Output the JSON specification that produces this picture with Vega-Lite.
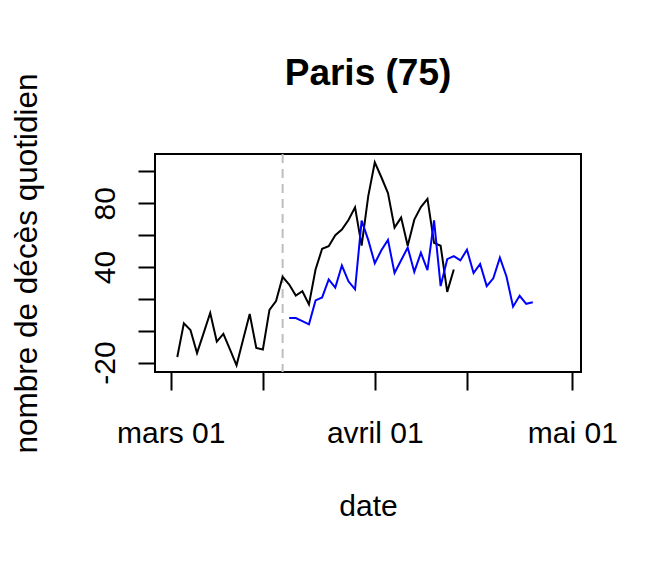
{
  "$schema": "https://vega.github.io/schema/vega-lite/v6.json",
  "width": 426,
  "height": 218,
  "autosize": {"type": "none"},
  "padding": {"left": 155, "top": 154, "right": 80, "bottom": 195},
  "background": "white",
  "title": {"text": "Paris (75)", "fontSize": 37, "font": "Liberation Sans", "fontWeight": "bold", "color": "black", "anchor": "middle", "frame": "group", "offset": -57, "baseline": "bottom"},
  "config": {
    "view": {"stroke": "black", "strokeWidth": 2},
    "axis": {"grid": false, "domain": false, "tickColor": "black", "tickWidth": 2, "labelFont": "Liberation Sans", "labelFontSize": 30, "labelColor": "black", "titleFont": "Liberation Sans", "titleFontSize": 30, "titleFontWeight": "normal", "titleColor": "black", "labelOverlap": false, "labelFlush": false}
  },
  "datasets": {
    "series": [
      {"date": "2020-03-02", "deces": -16.5, "serie": "observé"},
      {"date": "2020-03-03", "deces": 4.6, "serie": "observé"},
      {"date": "2020-03-04", "deces": 0.4, "serie": "observé"},
      {"date": "2020-03-05", "deces": -14, "serie": "observé"},
      {"date": "2020-03-06", "deces": -1.5, "serie": "observé"},
      {"date": "2020-03-07", "deces": 11.2, "serie": "observé"},
      {"date": "2020-03-08", "deces": -6.8, "serie": "observé"},
      {"date": "2020-03-09", "deces": -2, "serie": "observé"},
      {"date": "2020-03-10", "deces": -11.7, "serie": "observé"},
      {"date": "2020-03-11", "deces": -21.7, "serie": "observé"},
      {"date": "2020-03-12", "deces": -5.5, "serie": "observé"},
      {"date": "2020-03-13", "deces": 10.5, "serie": "observé"},
      {"date": "2020-03-14", "deces": -10.8, "serie": "observé"},
      {"date": "2020-03-15", "deces": -11.8, "serie": "observé"},
      {"date": "2020-03-16", "deces": 13.1, "serie": "observé"},
      {"date": "2020-03-17", "deces": 18.6, "serie": "observé"},
      {"date": "2020-03-18", "deces": 33.8, "serie": "observé"},
      {"date": "2020-03-19", "deces": 29, "serie": "observé"},
      {"date": "2020-03-20", "deces": 22.1, "serie": "observé"},
      {"date": "2020-03-21", "deces": 24.8, "serie": "observé"},
      {"date": "2020-03-22", "deces": 16.5, "serie": "observé"},
      {"date": "2020-03-23", "deces": 38.4, "serie": "observé"},
      {"date": "2020-03-24", "deces": 51.4, "serie": "observé"},
      {"date": "2020-03-25", "deces": 53, "serie": "observé"},
      {"date": "2020-03-26", "deces": 59.9, "serie": "observé"},
      {"date": "2020-03-27", "deces": 63.5, "serie": "observé"},
      {"date": "2020-03-28", "deces": 69.5, "serie": "observé"},
      {"date": "2020-03-29", "deces": 77.4, "serie": "observé"},
      {"date": "2020-03-30", "deces": 53.4, "serie": "observé"},
      {"date": "2020-03-31", "deces": 84.3, "serie": "observé"},
      {"date": "2020-04-01", "deces": 105.7, "serie": "observé"},
      {"date": "2020-04-02", "deces": 96.3, "serie": "observé"},
      {"date": "2020-04-03", "deces": 86.4, "serie": "observé"},
      {"date": "2020-04-04", "deces": 64.7, "serie": "observé"},
      {"date": "2020-04-05", "deces": 71, "serie": "observé"},
      {"date": "2020-04-06", "deces": 53.3, "serie": "observé"},
      {"date": "2020-04-07", "deces": 69.7, "serie": "observé"},
      {"date": "2020-04-08", "deces": 77.6, "serie": "observé"},
      {"date": "2020-04-09", "deces": 82.7, "serie": "observé"},
      {"date": "2020-04-10", "deces": 55.1, "serie": "observé"},
      {"date": "2020-04-11", "deces": 53.3, "serie": "observé"},
      {"date": "2020-04-12", "deces": 24.4, "serie": "observé"},
      {"date": "2020-04-13", "deces": 38.4, "serie": "observé"},
      {"date": "2020-03-19", "deces": 8, "serie": "modèle"},
      {"date": "2020-03-20", "deces": 8, "serie": "modèle"},
      {"date": "2020-03-21", "deces": 6, "serie": "modèle"},
      {"date": "2020-03-22", "deces": 4, "serie": "modèle"},
      {"date": "2020-03-23", "deces": 19, "serie": "modèle"},
      {"date": "2020-03-24", "deces": 20.9, "serie": "modèle"},
      {"date": "2020-03-25", "deces": 32.2, "serie": "modèle"},
      {"date": "2020-03-26", "deces": 27.1, "serie": "modèle"},
      {"date": "2020-03-27", "deces": 40.9, "serie": "modèle"},
      {"date": "2020-03-28", "deces": 31, "serie": "modèle"},
      {"date": "2020-03-29", "deces": 26, "serie": "modèle"},
      {"date": "2020-03-30", "deces": 69.1, "serie": "modèle"},
      {"date": "2020-03-31", "deces": 57, "serie": "modèle"},
      {"date": "2020-04-01", "deces": 42.3, "serie": "modèle"},
      {"date": "2020-04-02", "deces": 50.5, "serie": "modèle"},
      {"date": "2020-04-03", "deces": 57, "serie": "modèle"},
      {"date": "2020-04-04", "deces": 36.2, "serie": "modèle"},
      {"date": "2020-04-05", "deces": 44.2, "serie": "modèle"},
      {"date": "2020-04-06", "deces": 52.2, "serie": "modèle"},
      {"date": "2020-04-07", "deces": 36.9, "serie": "modèle"},
      {"date": "2020-04-08", "deces": 48.9, "serie": "modèle"},
      {"date": "2020-04-09", "deces": 38, "serie": "modèle"},
      {"date": "2020-04-10", "deces": 69.2, "serie": "modèle"},
      {"date": "2020-04-11", "deces": 28, "serie": "modèle"},
      {"date": "2020-04-12", "deces": 44.9, "serie": "modèle"},
      {"date": "2020-04-13", "deces": 46.8, "serie": "modèle"},
      {"date": "2020-04-14", "deces": 44.1, "serie": "modèle"},
      {"date": "2020-04-15", "deces": 50.9, "serie": "modèle"},
      {"date": "2020-04-16", "deces": 36.2, "serie": "modèle"},
      {"date": "2020-04-17", "deces": 41.9, "serie": "modèle"},
      {"date": "2020-04-18", "deces": 28, "serie": "modèle"},
      {"date": "2020-04-19", "deces": 32.9, "serie": "modèle"},
      {"date": "2020-04-20", "deces": 45.9, "serie": "modèle"},
      {"date": "2020-04-21", "deces": 34, "serie": "modèle"},
      {"date": "2020-04-22", "deces": 15.1, "serie": "modèle"},
      {"date": "2020-04-23", "deces": 21.9, "serie": "modèle"},
      {"date": "2020-04-24", "deces": 16.9, "serie": "modèle"},
      {"date": "2020-04-25", "deces": 17.9, "serie": "modèle"}
    ],
    "confinement": [
      {"date": "2020-03-18"}
    ]
  },
  "layer": [
    {
      "data": {"name": "confinement"},
      "mark": {"type": "rule", "color": "#BEBEBE", "strokeWidth": 2, "strokeDash": [9, 6]},
      "encoding": {
        "x": {"field": "date", "type": "temporal"}
      }
    },
    {
      "data": {"name": "series"},
      "mark": {"type": "line", "strokeWidth": 2},
      "encoding": {
        "x": {
          "field": "date",
          "type": "temporal",
          "scale": {"type": "utc", "domain": [1582814736000, 1588405248000], "nice": false},
          "axis": {
            "values": [1583020800000, 1584230400000, 1585699200000, 1586908800000, 1588291200000],
            "labelExpr": "utcdate(datum.value) == 1 ? ['janv.', 'févr.', 'mars', 'avril', 'mai', 'juin'][utcmonth(datum.value)] + ' 01' : ''",
            "labelAngle": 0,
            "labelAlign": "center",
            "labelBaseline": "top",
            "labelPadding": 28,
            "tickSize": 18,
            "title": "date",
            "titleX": 213,
            "titleY": 143,
            "titleAlign": "center",
            "titleBaseline": "alphabetic"
          }
        },
        "y": {
          "field": "deces",
          "type": "quantitative",
          "scale": {"domain": [-25.9, 110.9], "nice": false, "zero": false},
          "axis": {
            "values": [-20, 0, 20, 40, 60, 80, 100],
            "labelExpr": "indexof([-20, 40, 80], datum.value) >= 0 ? '' + datum.value : ''",
            "labelAngle": -90,
            "labelAlign": "center",
            "labelBaseline": "alphabetic",
            "labelPadding": 24,
            "tickSize": 17,
            "title": "nombre de décès quotidien",
            "titleFontSize": 31.5,
            "titleAngle": -90,
            "titleX": -119,
            "titleY": 109,
            "titleAlign": "center",
            "titleBaseline": "alphabetic"
          }
        },
        "color": {
          "field": "serie",
          "type": "nominal",
          "scale": {"domain": ["observé", "modèle"], "range": ["black", "blue"]},
          "legend": null
        }
      }
    }
  ]
}
